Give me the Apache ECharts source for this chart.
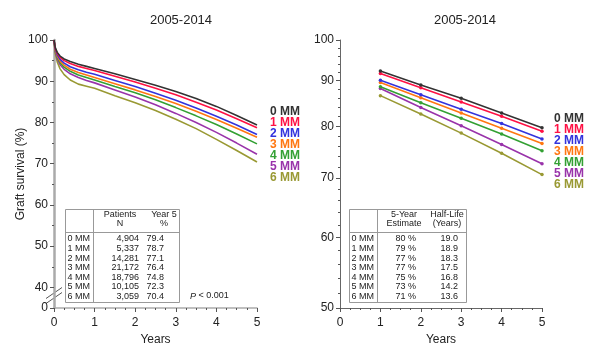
<!DOCTYPE html>
<html>
<head>
<meta charset="utf-8">
<script src="https://cdn.jsdelivr.net/npm/echarts@6/dist/echarts.min.js"></script>
<style>
  html, body { margin: 0; padding: 0; background: #fff; }
  #chart { width: 604px; height: 351px; }
</style>
</head>
<body>
<div id="chart"></div>
<script>
// 分组名称与颜色
const groups = ['0 MM', '1 MM', '2 MM', '3 MM', '4 MM', '5 MM', '6 MM'];
const colors = ['#333333', '#ff1144', '#3333dd', '#ff7711', '#33a033', '#9933aa', '#999933'];

// 左图: Kaplan-Meier 曲线 (years, %)
const kmYears = [0, 0.03, 0.08, 0.15, 0.25, 0.4, 0.6, 0.8, 1, 1.5, 2, 2.5, 3, 3.5, 4, 4.5, 5];
const km0 = [100, 98.2, 97.0, 96.1, 95.4, 94.8, 94.1, 93.6, 93.1, 91.8, 90.4, 89.0, 87.5, 85.8, 83.9, 81.7, 79.4];
const km1 = [100, 98.0, 96.8, 95.8, 95.0, 94.3, 93.6, 93.1, 92.6, 91.2, 89.8, 88.3, 86.7, 84.9, 83.0, 80.9, 78.7];
const km2 = [100, 97.8, 96.4, 95.3, 94.4, 93.5, 92.8, 92.2, 91.7, 90.2, 88.7, 87.1, 85.4, 83.5, 81.5, 79.4, 77.1];
const km3 = [100, 97.6, 96.1, 94.9, 93.9, 92.9, 92.1, 91.5, 90.9, 89.4, 87.9, 86.3, 84.6, 82.7, 80.7, 78.6, 76.4];
const km4 = [100, 97.4, 95.8, 94.5, 93.4, 92.4, 91.5, 90.9, 90.3, 88.7, 87.2, 85.5, 83.6, 81.6, 79.5, 77.2, 74.8];
const km5 = [100, 97.2, 95.4, 94.0, 92.9, 91.8, 90.9, 90.2, 89.6, 87.9, 86.2, 84.3, 82.2, 80.0, 77.6, 75.0, 72.3];
const km6 = [100, 96.8, 94.7, 93.0, 91.6, 90.3, 89.3, 88.8, 88.3, 86.5, 84.8, 82.9, 80.8, 78.5, 75.9, 73.2, 70.4];
const kmSeries = [km0, km1, km2, km3, km4, km5, km6];

// 右图: 模型估计 (log 轴)
const estYears = [1, 2, 3, 4, 5];
const est0 = [92.3, 89.0, 86.0, 82.8, 79.7];
const est1 = [91.7, 88.4, 85.2, 82.1, 79.0];
const est2 = [90.1, 86.8, 83.6, 80.6, 77.4];
const est3 = [89.6, 86.1, 82.8, 79.6, 76.5];
const est4 = [88.6, 85.0, 81.7, 78.4, 75.1];
const est5 = [88.2, 84.0, 80.1, 76.3, 72.6];
const est6 = [86.6, 82.6, 78.6, 74.6, 70.6];
const estSeries = [est0, est1, est2, est3, est4, est5, est6];

// 表格内容
const patientsN = ['4,904', '5,337', '14,281', '21,172', '18,796', '10,105', '3,059'];
const year5Pct = ['79.4', '78.7', '77.1', '76.4', '74.8', '72.3', '70.4'];
const fiveYearEst = ['80 %', '79 %', '77 %', '77 %', '75 %', '73 %', '71 %'];
const halfLife = ['19.0', '18.9', '18.3', '17.5', '16.8', '14.2', '13.6'];

// 轴刻度
const leftYLabels = [35, 40, 50, 60, 70, 80, 90, 100];
const leftYMinor = [45, 55, 65, 75, 85, 95];
const rightYLabels = [50, 60, 70, 80, 90, 100];
const rightYMinor = [52, 54, 56, 58, 62, 64, 66, 68, 72, 74, 76, 78, 82, 84, 86, 88, 92, 94, 96, 98];

const FONT = '"Liberation Sans", Arial, Helvetica, sans-serif';
const chart = echarts.init(document.getElementById('chart'), null, { renderer: 'canvas' });

const txt = (text, x, y, opts) => ({
    type: 'text', silent: true,
    style: Object.assign({ text, x, y, font: '9px ' + FONT, fill: '#222', align: 'left', verticalAlign: 'middle' }, opts || {})
});
const hline = (x1, x2, y, color) => ({ type: 'line', silent: true, shape: { x1, y1: y, x2, y2: y }, style: { stroke: color || '#999', lineWidth: 1 } });
const vline = (x, y1, y2, color) => ({ type: 'line', silent: true, shape: { x1: x, y1, x2: x, y2 }, style: { stroke: color || '#999', lineWidth: 1 } });

function buildTable(x0, x1, colX, head1, head2, col1, col2, c1x, c2x, h1x, h2x) {
    const els = [
        { type: 'rect', silent: true, shape: { x: x0, y: 209.5, width: x1 - x0, height: 93 }, style: { fill: '#fff', stroke: '#999', lineWidth: 1 } },
        vline(colX, 209.5, 302.5),
        hline(x0, x1, 232.5)
    ];
    els.push(txt(head1[0], h1x, 215, { align: 'center' }));
    els.push(txt(head1[1], h1x, 224, { align: 'center' }));
    els.push(txt(head2[0], h2x, 215, { align: 'center' }));
    els.push(txt(head2[1], h2x, 224, { align: 'center' }));
    groups.forEach((g, i) => {
        const y = 239 + i * 9.6;
        els.push(txt(g, x0 + 2, y));
        els.push(txt(col1[i], c1x, y, { align: 'right' }));
        els.push(txt(col2[i], c2x, y, { align: 'right' }));
    });
    return els;
}

const leftTable = buildTable(65.5, 179.5, 93.5, ['Patients', 'N'], ['Year 5', '%'], patientsN, year5Pct, 139, 164, 120, 164);
const rightTable = buildTable(349.5, 466.5, 377.5, ['5-Year', 'Estimate'], ['Half-Life', '(Years)'], fiveYearEst, halfLife, 416, 458, 404, 447);

// 左轴断裂标记
const breakMark = [
    { type: 'polygon', silent: true, shape: { points: [[47, 298], [61, 288], [61, 293], [47, 303]] }, style: { fill: '#fff' } },
    { type: 'line', silent: true, shape: { x1: 46, y1: 298.5, x2: 62, y2: 287.5 }, style: { stroke: '#555', lineWidth: 1 } },
    { type: 'line', silent: true, shape: { x1: 46, y1: 303.5, x2: 62, y2: 292.5 }, style: { stroke: '#555', lineWidth: 1 } }
];

const pText = {
    type: 'text', silent: true,
    style: {
        text: '{i|P} < 0.001', x: 190, y: 296, verticalAlign: 'middle',
        font: '9px ' + FONT, fill: '#222',
        rich: { i: { fontStyle: 'italic', fontSize: 9, fontFamily: FONT } }
    }
};

const series = [];
groups.forEach((g, i) => {
    series.push({
        name: g, type: 'line', xAxisIndex: 0, yAxisIndex: 0,
        data: kmYears.map((t, k) => [t, kmSeries[i][k]]),
        showSymbol: false, symbol: 'none',
        lineStyle: { color: colors[i], width: 1.6 }, itemStyle: { color: colors[i] },
        silent: true, animation: false, z: 10 - i
    });
    series.push({
        name: g, type: 'line', xAxisIndex: 1, yAxisIndex: 2,
        data: estYears.map((t, k) => [t, estSeries[i][k]]),
        symbol: 'circle', symbolSize: 3.5,
        lineStyle: { color: colors[i], width: 1.6 }, itemStyle: { color: colors[i] },
        silent: true, animation: false, z: 10 - i
    });
});

const legendData = groups.map((g, i) => ({ name: g, icon: 'none', textStyle: { color: colors[i] } }));
const legendBase = {
    orient: 'vertical', itemWidth: 1, itemHeight: 1, itemGap: -1, padding: 0,
    selectedMode: false,
    textStyle: { fontFamily: FONT, fontSize: 12, fontWeight: 'bold', lineHeight: 11.2, padding: 0 },
    data: legendData
};

const axisFont = { fontFamily: FONT, fontSize: 12, color: '#222' };

const option = {
    animation: false,
    title: [
        { text: '2005-2014', left: 176, top: 9, textAlign: 'center', textStyle: { fontFamily: FONT, fontSize: 13, fontWeight: 'normal', color: '#222' } },
        { text: '2005-2014', left: 460, top: 9, textAlign: 'center', textStyle: { fontFamily: FONT, fontSize: 13, fontWeight: 'normal', color: '#222' } }
    ],
    legend: [
        Object.assign({ left: 264, top: 106 }, legendBase),
        Object.assign({ left: 548, top: 113 }, legendBase)
    ],
    grid: [
        { left: 54, top: 40, width: 203, height: 268 },
        { left: 340, top: 40, width: 202, height: 268 }
    ],
    xAxis: [
        {
            gridIndex: 0, type: 'value', min: 0, max: 5, interval: 1,
            name: 'Years', nameLocation: 'middle', nameGap: 24, nameTextStyle: axisFont,
            axisLine: { lineStyle: { color: '#aaa', width: 1.5 } },
            axisTick: { length: 4, lineStyle: { color: '#555' } },
            minorTick: { show: true, splitNumber: 4, length: 2, lineStyle: { color: '#555' } },
            axisLabel: Object.assign({ margin: 9 }, axisFont),
            splitLine: { show: false }
        },
        {
            gridIndex: 1, type: 'value', min: 0, max: 5, interval: 1,
            name: 'Years', nameLocation: 'middle', nameGap: 24, nameTextStyle: axisFont,
            axisLine: { lineStyle: { color: '#666', width: 1 } },
            axisTick: { length: 4, lineStyle: { color: '#555' } },
            minorTick: { show: true, splitNumber: 4, length: 2, lineStyle: { color: '#555' } },
            axisLabel: Object.assign({ margin: 9 }, axisFont),
            splitLine: { show: false }
        }
    ],
    yAxis: [
        {
            gridIndex: 0, type: 'value', min: 35, max: 100, position: 'left',
            name: 'Graft survival (%)', nameLocation: 'middle', nameGap: 27, nameRotate: 90,
            nameMoveOverlap: false,
            nameTextStyle: axisFont,
            axisLine: { show: true, lineStyle: { color: '#aaa', width: 2.5 } },
            axisTick: { show: true, length: 4, customValues: leftYLabels, lineStyle: { color: '#555' } },
            axisLabel: Object.assign({ margin: 6, customValues: leftYLabels, formatter: v => (v === 35 ? '0' : String(v)) }, axisFont),
            splitLine: { show: false }
        },
        {
            gridIndex: 0, type: 'value', min: 35, max: 100, position: 'left', offset: 0,
            axisLine: { show: false },
            axisTick: { show: true, length: 2, customValues: leftYMinor, lineStyle: { color: '#555' } },
            axisLabel: { show: false },
            splitLine: { show: false }
        },
        {
            gridIndex: 1, type: 'log', logBase: 10, min: 50, max: 100, position: 'left',
            axisLine: { show: true, lineStyle: { color: '#666', width: 1 } },
            axisTick: { show: true, length: 4, customValues: rightYLabels, lineStyle: { color: '#555' } },
            axisLabel: Object.assign({ margin: 6, customValues: rightYLabels }, axisFont),
            splitLine: { show: false }
        },
        {
            gridIndex: 1, type: 'log', logBase: 10, min: 50, max: 100, position: 'left', offset: 0,
            axisLine: { show: false },
            axisTick: { show: true, length: 2, customValues: rightYMinor, lineStyle: { color: '#555' } },
            axisLabel: { show: false },
            splitLine: { show: false }
        }
    ],
    series: series,
    graphic: [].concat(breakMark, leftTable, rightTable, [pText])
};

chart.setOption(option);
</script>
</body>
</html>
